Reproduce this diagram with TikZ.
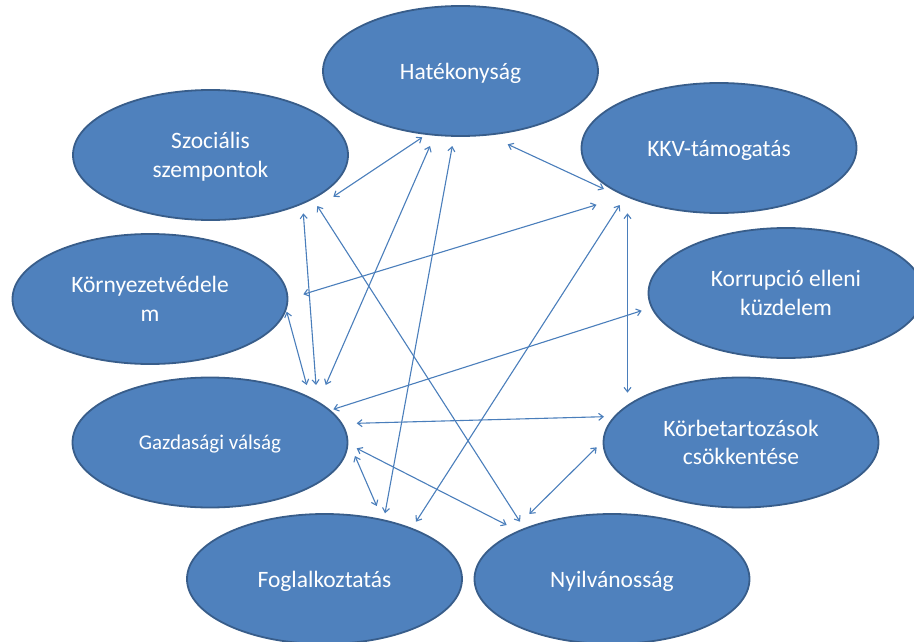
\documentclass[tikz,border=0pt]{standalone}
\usepackage{fontspec}
\setmainfont{Carlito}
\usetikzlibrary{shapes.geometric,arrows.meta}
\definecolor{efill}{HTML}{4F81BD}
\definecolor{eline}{HTML}{385D8A}
\definecolor{aline}{HTML}{4A7EBB}
\tikzset{
  topic/.style={ellipse, draw=eline, line width=1.8pt, fill=efill, text=white,
    minimum width=275pt, minimum height=130pt, inner sep=0pt, align=center,
    text depth=0pt, font=\fontsize{23.5}{28.5}\selectfont},
  smalltopic/.style={topic, font=\fontsize{21}{26}\selectfont},
  link/.style={draw=aline, line width=1.1pt,
    {Straight Barb[length=4.5pt,width=7pt]}-{Straight Barb[length=4.5pt,width=7pt]}}
}
\begin{document}
\begin{tikzpicture}[x=1pt,y=-1pt]
\useasboundingbox (0,0) rectangle (914,642);
\clip (0,0) rectangle (914,642);
% nodes
\node[topic] (hat)  at (460.5,71)  {Hatékonyság};
\node[topic] (szoc) at (210.5,155) {Szociális\\szempontok};
\node[topic] (kkv)  at (719,148)   {KKV-támogatás};
\node[topic] (korny) at (150,299)  {Környezetvédele\\m};
\node[topic] (korr) at (786,293)   {Korrupció elleni\\küzdelem};
\node[smalltopic] (gaz) at (210,442.5) {Gazdasági válság};
\node[topic] (korb) at (741,442.5) {Körbetartozások\\csökkentése};
\node[topic] (fog)  at (324.5,579) {Foglalkoztatás};
\node[topic] (nyil) at (612,579)   {Nyilvánosság};
% connector end points
\coordinate (szoc-hat-a) at (333.3,196.7);
\coordinate (szoc-hat-b) at (422.3,137.3);
\coordinate (hat-gaz-a) at (430,146);
\coordinate (hat-gaz-b) at (325.7,385);
\coordinate (hat-fog-a) at (452.3,146);
\coordinate (hat-fog-b) at (385,513.3);
\coordinate (hat-kkv-a) at (507.7,144.3);
\coordinate (hat-kkv-b) at (604,189);
\coordinate (szoc-gaz-a) at (303.3,213.3);
\coordinate (szoc-gaz-b) at (316,385);
\coordinate (szoc-nyil-a) at (317.3,206);
\coordinate (szoc-nyil-b) at (520,521.7);
\coordinate (kkv-korny-a) at (596.5,204.8);
\coordinate (kkv-korny-b) at (303.3,294.3);
\coordinate (korny-gaz-a) at (286.7,311.7);
\coordinate (korny-gaz-b) at (306.7,385);
\coordinate (korr-gaz-a) at (641.7,310.7);
\coordinate (korr-gaz-b) at (333.3,409.3);
\coordinate (kkv-fog-a) at (619.7,205);
\coordinate (kkv-fog-b) at (416,521.7);
\coordinate (kkv-korb-a) at (627.5,213.3);
\coordinate (kkv-korb-b) at (627.5,392.7);
\coordinate (gaz-korb-a) at (356.7,423.3);
\coordinate (gaz-korb-b) at (604,416.7);
\coordinate (gaz-nyil-a) at (356.7,448.3);
\coordinate (gaz-nyil-b) at (506.7,525);
\coordinate (gaz-fog-a) at (355,456);
\coordinate (gaz-fog-b) at (376.7,506);
\coordinate (korb-nyil-a) at (596.7,447.3);
\coordinate (korb-nyil-b) at (529.3,514);
% connectors
\draw[link] (szoc-hat-a) -- (szoc-hat-b);
\draw[link] (hat-gaz-a) -- (hat-gaz-b);
\draw[link] (hat-fog-a) -- (hat-fog-b);
\draw[link] (hat-kkv-a) -- (hat-kkv-b);
\draw[link] (szoc-gaz-a) -- (szoc-gaz-b);
\draw[link] (szoc-nyil-a) -- (szoc-nyil-b);
\draw[link] (kkv-korny-a) -- (kkv-korny-b);
\draw[link] (korny-gaz-a) -- (korny-gaz-b);
\draw[link] (korr-gaz-a) -- (korr-gaz-b);
\draw[link] (kkv-fog-a) -- (kkv-fog-b);
\draw[link] (kkv-korb-a) -- (kkv-korb-b);
\draw[link] (gaz-korb-a) -- (gaz-korb-b);
\draw[link] (gaz-nyil-a) -- (gaz-nyil-b);
\draw[link] (gaz-fog-a) -- (gaz-fog-b);
\draw[link] (korb-nyil-a) -- (korb-nyil-b);
\end{tikzpicture}
\end{document}
